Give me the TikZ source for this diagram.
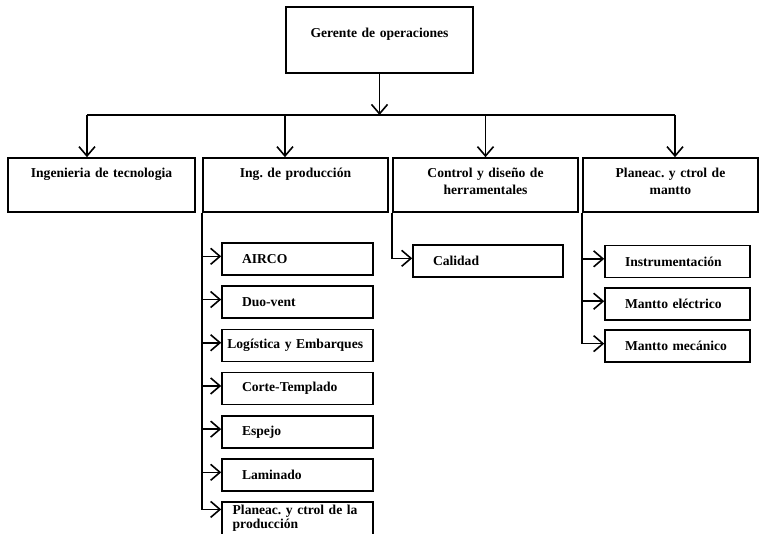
\documentclass[tikz,border=0pt]{standalone}
\usepackage{fontspec}
\setmainfont{Liberation Serif}
\frenchspacing
\usetikzlibrary{arrows.meta,positioning}
\tikzset{
  orgbox/.style={
    draw=black,
    line width=1.2pt,
    font=\bfseries\fontsize{10.2}{12.5}\selectfont,
    inner sep=4pt
  },
  headbox/.style={orgbox, align=center, text width=132.25pt, text height=19pt, text depth=22.5pt},
  areabox/.style={orgbox, align=center, text width=#1, text height=10.75pt, text depth=21.75pt},
  subbox/.style={orgbox, align=left, text width=#1, inner xsep=15pt, minimum height=24pt},
  link/.style={line width=1.2pt, draw=black},
  arrow/.style={link, -{Straight Barb[length=7pt,width=12pt]}}
}
\begin{document}
\begin{tikzpicture}[x=0.75pt, y=-0.75pt, node distance=7.2pt]
  \useasboundingbox (0,0) rectangle (760,534);
  \fill[white] (0,0) rectangle (760,534);
  \clip (0,0) rectangle (760,534);
  \node[headbox] (ger) at (379.5,40) {Gerente de operaciones};
  \node[areabox=132.25pt] (tec) at (101.5,185) {Ingenieria de tecnologia};
  \node[areabox=130.75pt] (prod) at (295.5,185) {Ing. de producción};
  \node[areabox=130.75pt] (herr) at (485.5,185) {Control y diseño de\\herramentales};
  \node[areabox=123.25pt] (mant) at (670.5,185) {Planeac. y ctrol de\\mantto};
  \node[subbox=83.25pt] (airco) at (297.5,259) {AIRCO};
  \node[subbox=83.25pt, below=of airco] (duo) {Duo-vent};
  \node[subbox=105.25pt, inner xsep=4pt, below=of duo] (logis) {Logística y Embarques};
  \node[subbox=83.25pt, below=of logis] (corte) {Corte-Templado};
  \node[subbox=83.25pt, below=of corte] (espejo) {Espejo};
  \node[subbox=83.25pt, below=of espejo] (lamin) {Laminado};
  \node[subbox=97.25pt, inner xsep=8pt, inner ysep=2pt, minimum height=0pt, text depth=16pt, below=of lamin] (plan) {Planeac. y ctrol de la\\[-2pt]producción};
  \node[subbox=82.5pt] (cal) at (488,261) {Calidad};
  \node[subbox=78.75pt] (instr) at (677.5,261.5) {Instrumentación};
  \node[subbox=78.75pt, below=6.6pt of instr] (melec) {Mantto eléctrico};
  \node[subbox=78.75pt, below=6.6pt of melec] (mmec) {Mantto mecánico};
  \coordinate (bus) at (379.5,115);
  \draw[arrow] (ger) -- (bus);
  \draw[link] ([xshift=-10.9pt]tec.north |- bus) -- ([xshift=3.4pt]mant.north |- bus);
  \draw[arrow] ([xshift=-10.9pt]tec.north |- bus) -- ([xshift=-10.9pt]tec.north);
  \draw[arrow] ([xshift=-7.9pt]prod.north |- bus) -- ([xshift=-7.9pt]prod.north);
  \draw[arrow] (herr.north |- bus) -- (herr.north);
  \draw[arrow] ([xshift=3.4pt]mant.north |- bus) -- ([xshift=3.4pt]mant.north);
  \foreach \s in {airco,duo,logis,corte,espejo,lamin}
    \draw[arrow] (prod.south west) |- ([yshift=2pt]\s.west);
  \draw[arrow] (prod.south west) |- ([yshift=-6pt]plan.north west);
  \draw[arrow] (herr.south west) |- ([yshift=2pt]cal.west);
  \foreach \s in {instr,melec,mmec}
    \draw[arrow] (mant.south west) |- ([yshift=2pt]\s.west);
\end{tikzpicture}
\end{document}
